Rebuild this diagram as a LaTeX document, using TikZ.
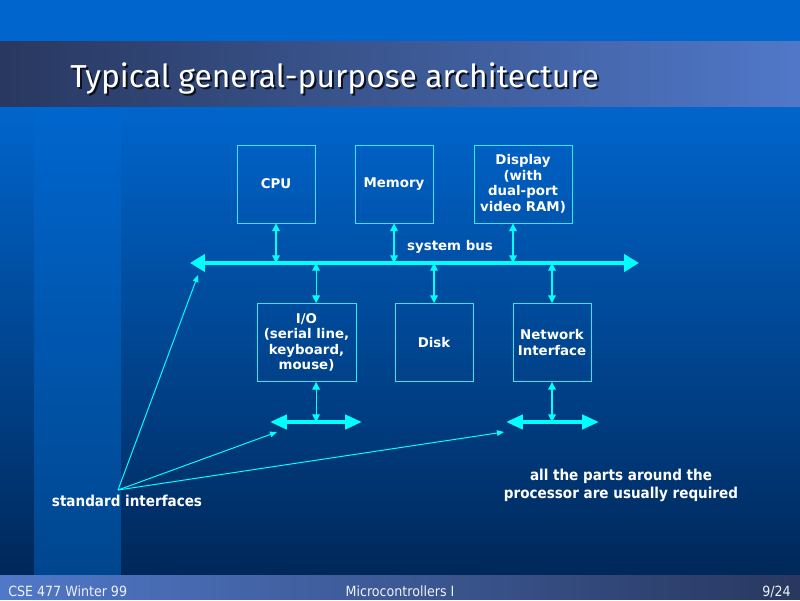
\documentclass[tikz,border=0pt]{standalone}
\usepackage{fontspec}
\setmainfont{DejaVu Sans}
\newfontfamily\condfont{DejaVu Sans Condensed}
\newfontfamily\titlefont{Fira Sans}
\usetikzlibrary{arrows.meta}

\definecolor{bgtop}{HTML}{0065CC}
\definecolor{bgbot}{HTML}{00285A}
\definecolor{stripetop}{HTML}{0066CE}
\definecolor{stripebot}{HTML}{00468E}
\definecolor{banddark}{HTML}{283860}
\definecolor{bandlight}{HTML}{5078C8}
\definecolor{wire}{HTML}{00FFFF}
\definecolor{boxline}{HTML}{30E8F0}

\tikzset{
  unit/.style={draw=boxline,line width=0.6pt,text=white,align=center,inner sep=0pt,
    minimum height=1.95cm,font=\bfseries\fontsize{9.5}{11}\selectfont},
  bus/.style={wire,line width=3.5pt,{Triangle[length=10.5pt,width=12pt]}-{Triangle[length=10.5pt,width=12pt]}},
  sidebus/.style={wire,line width=2.8pt,{Triangle[length=12pt,width=10pt]}-{Triangle[length=12pt,width=10pt]}},
  tap/.style={wire,line width=0.8pt,{Triangle[length=5.5pt,width=5.5pt]}-{Triangle[length=5.5pt,width=5.5pt]}},
  pointer/.style={wire,line width=0.7pt,-{Triangle[length=5pt,width=4pt]}},
  label/.style={text=white,font=\condfont\bfseries\fontsize{10.7}{12.8}\selectfont,align=center},
  foot/.style={text=white!90!bandlight,inner sep=0pt,font=\condfont\fontsize{10}{11}\selectfont},
  headline/.style={inner sep=0pt,font=\titlefont\fontsize{22.6}{27}\selectfont}
}

\begin{document}
\begin{tikzpicture}[x=0.025cm,y=0.025cm]
    \useasboundingbox (0,0) rectangle (800,600);
    % slide background, drawn in strips
    \fill[bgtop] (0,490) rectangle (800,600);
    \foreach \k in {0,...,93} {
        \pgfmathsetmacro\pct{100-100*\k/93}
        \fill[bgbot!\pct!bgtop] (0,25+5*\k) rectangle (800,30.4+5*\k);
        \fill[stripebot!\pct!stripetop] (34,25+5*\k) rectangle (121,30.4+5*\k);
    }
    \foreach \k in {0,...,79} {
        \pgfmathsetmacro\pct{100*\k/79}
        \fill[bandlight!\pct!banddark] (10*\k,493) rectangle (10.4+10*\k,559);
        \fill[banddark!\pct!bandlight] (10*\k,0) rectangle (10.4+10*\k,25);
    }

    \node[headline,anchor=base west,text=black!70!banddark] (titleshadow) at (72,510) {Typical general-purpose architecture};
    \node[headline,anchor=base west,text=white] (title) at (70,512) {Typical general-purpose architecture};

    % boxes
    \node[unit,minimum width=1.95cm] (cpu) at (276,416) {CPU};
    \node[unit,minimum width=1.95cm] (mem) at (394,416) {Memory};
    \node[unit,minimum width=2.45cm] (disp) at (523,416) {Display\\(with\\dual-port\\video RAM)};
    \node[unit,minimum width=2.475cm] (io) at (306.5,257.5) {I/O\\(serial line,\\keyboard,\\mouse)};
    \node[unit,minimum width=1.95cm] (disk) at (434,257.5) {Disk};
    \node[unit,minimum width=1.95cm] (net) at (552,257.5) {Network\\Interface};

    % system bus
    \coordinate (busL) at (190,337);
    \coordinate (busR) at (639,337);
    \draw[bus] (busL) -- (busR);
    \node[text=white,font=\bfseries\fontsize{9.5}{11}\selectfont] (buslabel) at (450,353) {system bus};

    \draw[tap] (cpu.south) -- (cpu.south |- busL);
    \draw[tap] (mem.south) -- (mem.south |- busL);
    \draw[tap] ([xshift=-0.25cm]disp.south) -- ([xshift=-0.25cm]disp.south |- busL);
    \draw[tap] ([xshift=0.24cm]io.north |- busL) -- ([xshift=0.24cm]io.north);
    \draw[tap] (disk.north |- busL) -- (disk.north);
    \draw[tap] (net.north |- busL) -- (net.north);

    % local buses
    \coordinate (ioL) at (270,178);
    \coordinate (ioR) at (362,178);
    \coordinate (netL) at (506,178);
    \coordinate (netR) at (599,178);
    \draw[sidebus] (ioL) -- (ioR);
    \draw[sidebus] (netL) -- (netR);
    \draw[tap] ([xshift=0.24cm]io.south) -- ([xshift=0.24cm]io.south |- ioL);
    \draw[tap] (net.south) -- (net.south |- netL);

    % notes
    \node[label] (std) at (127,99) {standard interfaces};
    \node[label] (note) at (621,115) {all the parts around the\\processor are usually required};
    \coordinate (origin) at (118,110);
    \coordinate (tipbus) at (198,325);
    \coordinate (tipio) at (277,168);
    \coordinate (tipnet) at (504,168);
    \draw[pointer] (origin) -- (tipbus);
    \draw[pointer] (origin) -- (tipio);
    \draw[pointer] (origin) -- (tipnet);

    % footer
    \node[foot,anchor=base west] (course) at (8,4) {CSE 477 Winter 99};
    \node[foot,anchor=base] (topic) at (400,4) {Microcontrollers I};
    \node[foot,anchor=base east] (page) at (791,4) {9/24};
\end{tikzpicture}
\end{document}
